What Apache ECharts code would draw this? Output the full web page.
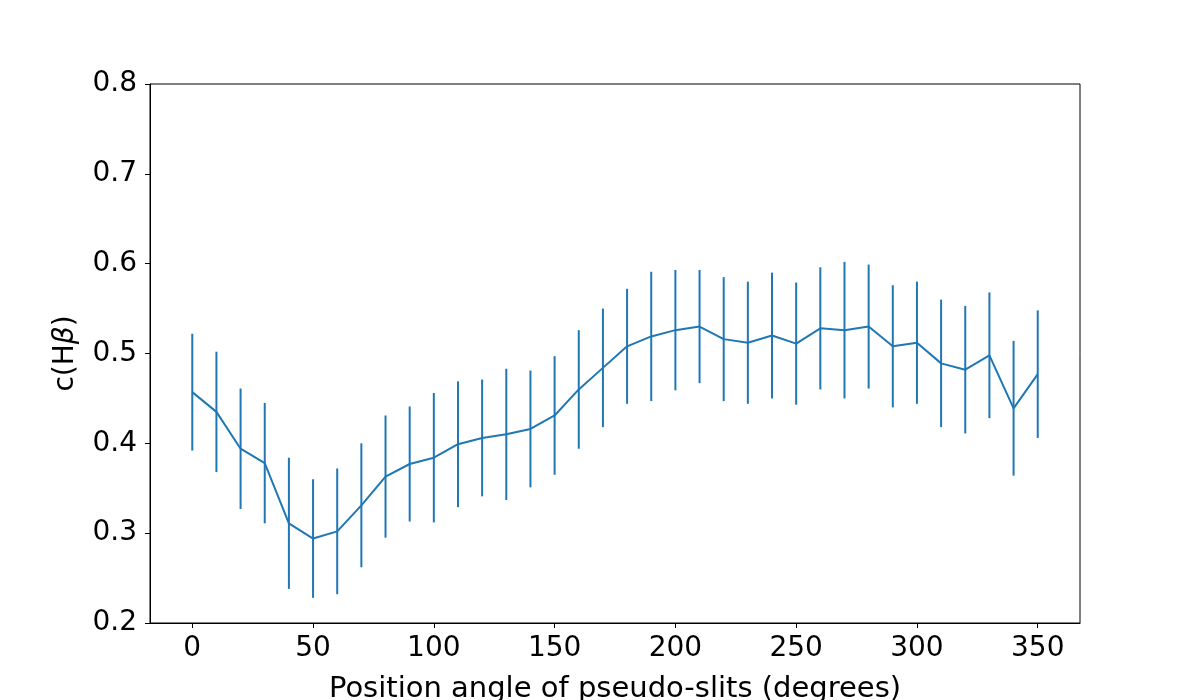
<!DOCTYPE html>
<html>
<head>
<meta charset="UTF-8">
<script src="https://cdn.jsdelivr.net/npm/echarts@6/dist/echarts.min.js"></script>
<title>c(Hbeta) vs position angle</title>
<style>
  html, body { margin: 0; padding: 0; background: #fff; }
  #chart { width: 1200px; height: 700px; }
</style>
</head>
<body>
<div id="chart"></div>
<script>
// position angle of the pseudo-slits (degrees)
var angles = [0, 10, 20, 30, 40, 50, 60, 70, 80, 90, 100, 110, 120, 130, 140, 150, 160, 170,
              180, 190, 200, 210, 220, 230, 240, 250, 260, 270, 280, 290, 300, 310, 320, 330, 340, 350];
// c(Hbeta) values
var chb = [0.457, 0.435, 0.394, 0.378, 0.311, 0.294, 0.302, 0.331, 0.363, 0.377, 0.384, 0.399,
           0.406, 0.410, 0.416, 0.431, 0.460, 0.484, 0.508, 0.519, 0.526, 0.530, 0.516, 0.512,
           0.520, 0.511, 0.528, 0.526, 0.530, 0.508, 0.512, 0.489, 0.482, 0.498, 0.439, 0.477];
// symmetric errors
var errs = [0.065, 0.067, 0.067, 0.067, 0.073, 0.066, 0.070, 0.069, 0.068, 0.064, 0.072, 0.070,
            0.065, 0.073, 0.065, 0.066, 0.066, 0.066, 0.064, 0.072, 0.067, 0.063, 0.069, 0.068,
            0.070, 0.068, 0.068, 0.076, 0.069, 0.068, 0.068, 0.071, 0.071, 0.070, 0.075, 0.071];
var xTicks = [0, 50, 100, 150, 200, 250, 300, 350];

var lineData = [];
var errData = [];
for (var i = 0; i < angles.length; i++) {
  lineData.push([angles[i], chb[i]]);
  errData.push([angles[i], chb[i] - errs[i], chb[i] + errs[i]]);
}

var blue = '#1f77b4';
var font = 'DejaVu Sans';
var fs = 28;

var chart = echarts.init(document.getElementById('chart'));
var option = {
  animation: false,
  grid: {
    left: 150, right: 120, top: 84, bottom: 77,
    outerBoundsMode: 'none',
    containLabel: false,
    show: true, borderColor: '#000', borderWidth: 1, backgroundColor: 'transparent'
  },
  xAxis: {
    type: 'value',
    min: -17.5, max: 367.5,
    name: 'Position angle of pseudo-slits (degrees)',
    nameLocation: 'middle',
    nameGap: 52,
    nameTextStyle: { fontFamily: font, fontSize: 29, color: '#000' },
    axisLine: { show: true, onZero: false, lineStyle: { color: '#000', width: 1 } },
    axisTick: { show: true, length: 5, inside: false, customValues: xTicks, lineStyle: { color: '#000' } },
    axisLabel: { customValues: xTicks, fontFamily: font, fontSize: fs, color: '#000', margin: 12 },
    splitLine: { show: false }
  },
  yAxis: {
    type: 'value',
    min: 0.2, max: 0.8, interval: 0.1,
    name: 'c(H{it|β})',
    nameLocation: 'middle',
    nameGap: 70,
    nameRotate: 90,
    nameTextStyle: {
      fontFamily: font, fontSize: fs, color: '#000',
      rich: { it: { fontFamily: font, fontSize: fs, fontStyle: 'italic', color: '#000' } }
    },
    axisLine: { show: true, onZero: false, lineStyle: { color: '#000', width: 1 } },
    axisTick: { show: true, length: 5, inside: false, lineStyle: { color: '#000' } },
    axisLabel: {
      fontFamily: font, fontSize: fs, color: '#000', margin: 13,
      formatter: function (v) { return v.toFixed(1); }
    },
    splitLine: { show: false }
  },
  series: [
    {
      type: 'custom',
      name: 'errors',
      data: errData,
      encode: { x: 0, y: [1, 2] },
      renderItem: function (params, api) {
        var p1 = api.coord([api.value(0), api.value(1)]);
        var p2 = api.coord([api.value(0), api.value(2)]);
        return {
          type: 'line',
          shape: { x1: p1[0], y1: p1[1], x2: p2[0], y2: p2[1] },
          style: { stroke: blue, lineWidth: 2 }
        };
      },
      z: 2
    },
    {
      type: 'line',
      name: 'c(Hbeta)',
      data: lineData,
      showSymbol: false,
      symbol: 'none',
      lineStyle: { color: blue, width: 2 },
      itemStyle: { color: blue },
      z: 3
    }
  ]
};
chart.setOption(option);
</script>
</body>
</html>
